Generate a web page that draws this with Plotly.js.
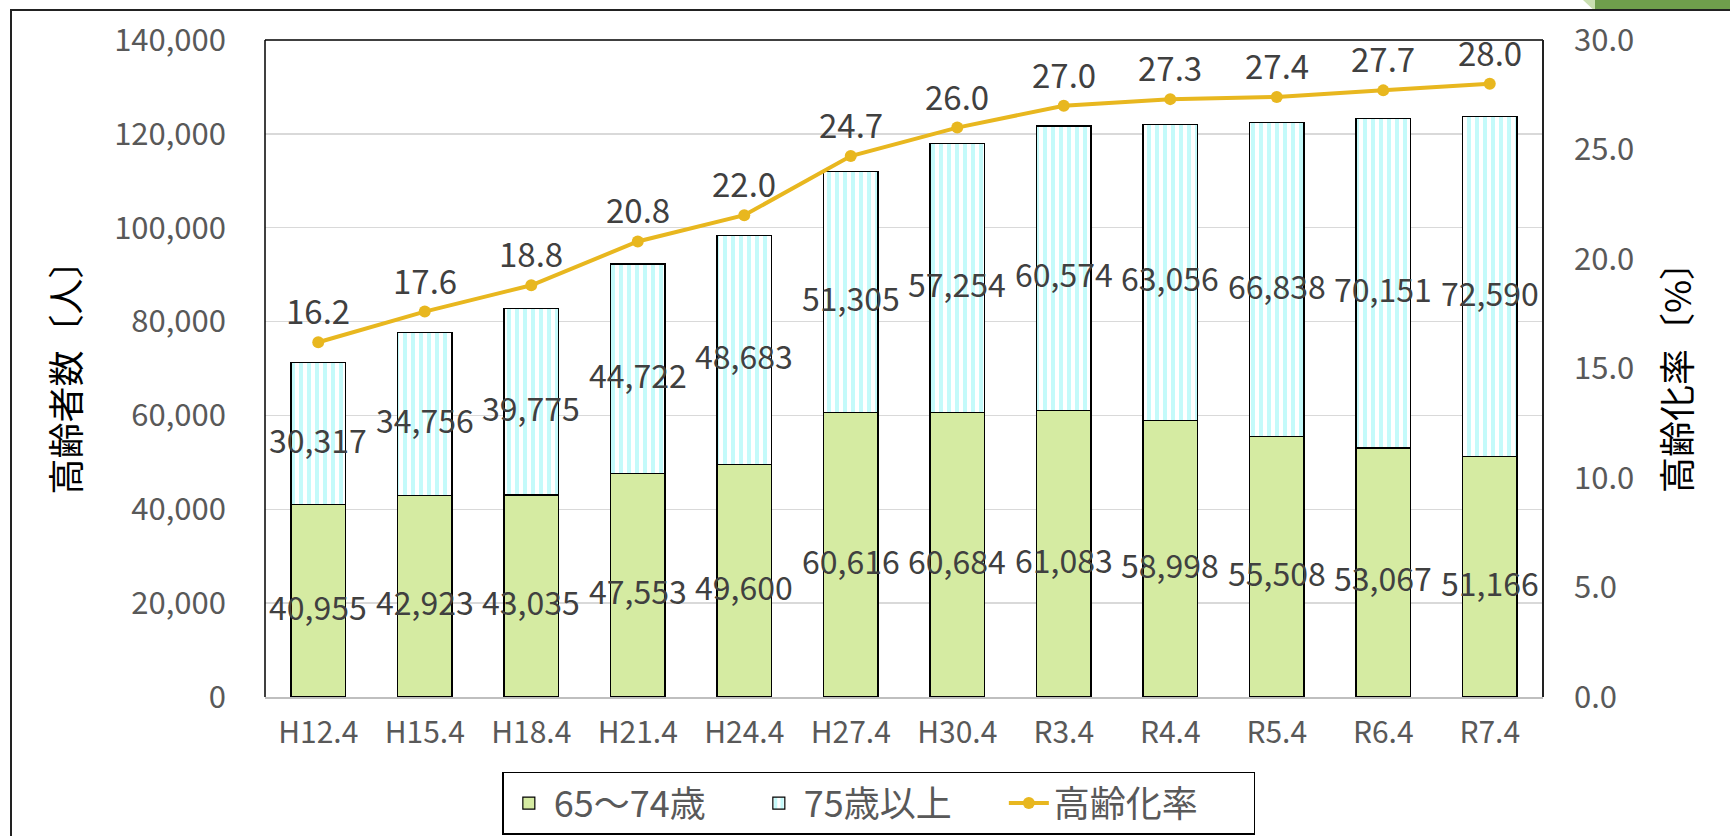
<!DOCTYPE html>
<html>
<head>
<meta charset="utf-8">
<script src="https://cdn.plot.ly/plotly-3.0.1.min.js"></script>
<style>
  html, body { margin:0; padding:0; background:#ffffff; width:1730px; height:836px; overflow:hidden; }
  #frame { position:absolute; left:10px; top:9px; width:1800px; height:900px; border-top:2px solid #222; border-left:2px solid #222; }
  #deco1 { position:absolute; left:1583px; top:0; width:160px; height:9px; background:#c9dfb0; clip-path:polygon(0 0, 100% 0, 100% 100%, 6% 100%); }
  #deco2 { position:absolute; left:1595px; top:0; width:140px; height:9px; background:#6f9e4c; }
  #chart { position:absolute; left:0; top:0; width:1730px; height:836px; }
</style>
</head>
<body>
<div id="frame"></div>
<div id="deco1"></div>
<div id="deco2"></div>
<div id="chart"></div>
<script>
const categories = ["H12.4","H15.4","H18.4","H21.4","H24.4","H27.4","H30.4","R3.4","R4.4","R5.4","R6.4","R7.4"];
const age65to74 = [40955, 42923, 43035, 47553, 49600, 60616, 60684, 61083, 58998, 55508, 53067, 51166];
const age75plus = [30317, 34756, 39775, 44722, 48683, 51305, 57254, 60574, 63056, 66838, 70151, 72590];
const agingRate = [16.2, 17.6, 18.8, 20.8, 22.0, 24.7, 26.0, 27.0, 27.3, 27.4, 27.7, 28.0];
const leftTicks = [0, 20000, 40000, 60000, 80000, 100000, 120000, 140000];
const rightTicks = [0, 5, 10, 15, 20, 25, 30];

const FONT = '"Noto Sans CJK JP", "Noto Sans", sans-serif';
const fmt = v => v.toLocaleString('en-US');

const traces = [
  {
    type:'bar', name:'65～74歳', x:categories, y:age65to74,
    marker:{color:'#d5eba2', line:{color:'#000000', width:1.2}},
    hoverinfo:'skip'
  },
  {
    type:'bar', name:'75歳以上', x:categories, y:age75plus,
    marker:{color:'#ffffff', line:{color:'#000000', width:1.2},
      pattern:{shape:'|', fgcolor:'#c4fafa', bgcolor:'#ffffff', size:8, solidity:0.5, fillmode:'replace'}},
    hoverinfo:'skip'
  },
  {
    type:'scatter', mode:'lines+markers', name:'高齢化率', x:categories, y:agingRate, yaxis:'y2',
    line:{color:'#e8b71f', width:4}, marker:{color:'#e8b71f', size:12},
    hoverinfo:'skip'
  }
];

const labelFont = {family:FONT, size:32, color:'#404040'};
const annotations = [].concat(
  categories.map((c,i) => ({
    x:c, y:age65to74[i]/2, xref:'x', yref:'y', text:fmt(age65to74[i]),
    showarrow:false, yshift:-5, font:labelFont
  })),
  categories.map((c,i) => ({
    x:c, y:age65to74[i] + age75plus[i]/2, xref:'x', yref:'y', text:fmt(age75plus[i]),
    showarrow:false, yshift:-5, font:labelFont
  })),
  categories.map((c,i) => ({
    x:c, y:agingRate[i], xref:'x', yref:'y2', text:agingRate[i].toFixed(1),
    showarrow:false, yshift:32, font:{family:FONT, size:33, color:'#404040'}
  }))
);

const layout = {
  width:1730, height:836,
  margin:{l:265, r:187, t:40, b:139, pad:0},
  paper_bgcolor:'rgba(0,0,0,0)', plot_bgcolor:'#ffffff',
  font:{family:FONT, color:'#595959'},
  barmode:'stack', bargap:0.49,
  showlegend:true,
  legend:{orientation:'h', xref:'container', yref:'container', x:0.508, xanchor:'center', y:0.077, yanchor:'top',
    bordercolor:'#000000', borderwidth:1.5, bgcolor:'#ffffff',
    font:{family:FONT, size:36, color:'#595959'}, traceorder:'normal', itemwidth:40,
    entrywidth:195, entrywidthmode:'pixels'},
  xaxis:{type:'category', range:[-0.5, 11.5], showline:true, linecolor:'#bfbfbf', linewidth:2,
    ticks:'', ticklabelstandoff:8, tickfont:{family:FONT, size:30, color:'#595959'}, showgrid:false, fixedrange:true},
  yaxis:{range:[0,140000], tickvals:leftTicks, ticktext:leftTicks.map(fmt),
    showgrid:true, gridcolor:'#d9d9d9', gridwidth:1.5, zeroline:false, showline:false,
    ticks:'', ticklabelstandoff:38,
    tickfont:{family:FONT, size:31, color:'#595959'},
    title:{text:'高齢者数〔人〕', font:{family:FONT, size:36, color:'#000000'}, standoff:22}},
  yaxis2:{range:[0,30], overlaying:'y', side:'right', tickvals:rightTicks,
    ticktext:rightTicks.map(v => v.toFixed(1)), showgrid:false, zeroline:false, showline:false,
    ticks:'', ticklabelstandoff:30,
    tickfont:{family:FONT, size:31, color:'#595959'},
    title:{text:'高齢化率〔%〕', font:{family:FONT, size:36, color:'#000000'}, standoff:32}},
  shapes:[
    {type:'line', xref:'paper', yref:'paper', x0:0, x1:0, y0:0, y1:1, line:{color:'#000', width:1.5}},
    {type:'line', xref:'paper', yref:'paper', x0:0, x1:1, y0:1, y1:1, line:{color:'#000', width:1.5}},
    {type:'line', xref:'paper', yref:'paper', x0:1, x1:1, y0:0, y1:1, line:{color:'#222', width:2}}
  ],
  annotations:annotations
};

Plotly.newPlot('chart', traces, layout, {displayModeBar:false, staticPlot:true});
</script>
</body>
</html>
